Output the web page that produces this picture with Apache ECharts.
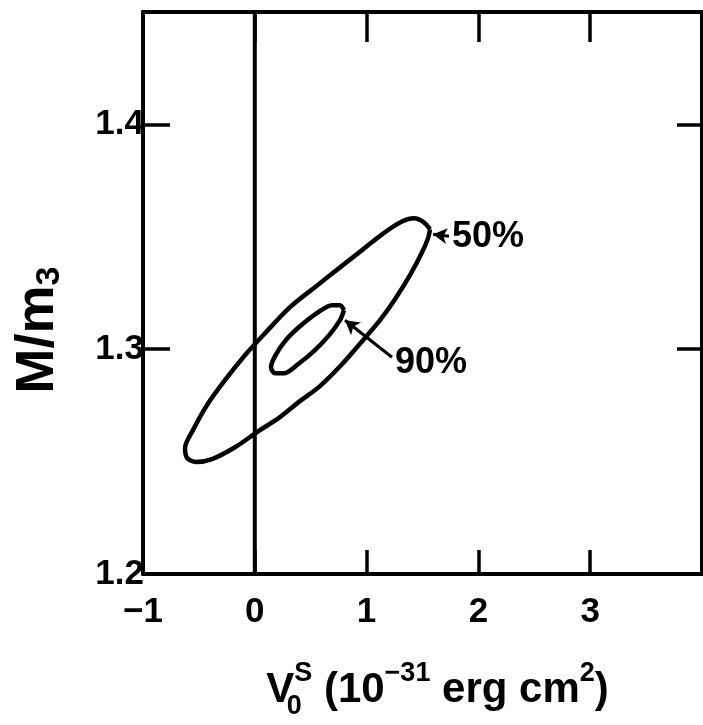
<!DOCTYPE html>
<html><head><meta charset="utf-8">
<script src="https://cdn.jsdelivr.net/npm/echarts@6/dist/echarts.min.js"></script>
<style>html,body{margin:0;padding:0;background:#fff}#c{width:703px;height:725px}</style>
</head><body><div id="c"></div>
<script>
// Axis ranges / ticks
const xRange = [-1, 4];
const yRange = [1.2, 1.45];
const xInterval = 1;
const yInterval = 0.1;

// 50% confidence contour (traced points)
const ell50X = [1.567, 1.513, 1.424, 1.299, 1.138, 0.968, 0.762, 0.538, 0.315, 0.091, -0.088, -0.267, -0.428, -0.553, -0.624, -0.606, -0.526, -0.383, -0.177, 0.020, 0.225, 0.404, 0.583, 0.780, 0.968, 1.120, 1.254, 1.388, 1.496, 1.549];
const ell50Y = [1.3533, 1.3564, 1.3582, 1.3564, 1.3511, 1.3444, 1.3364, 1.3276, 1.3187, 1.3071, 1.2973, 1.2862, 1.2751, 1.2640, 1.2560, 1.2516, 1.2498, 1.2511, 1.2564, 1.2631, 1.2698, 1.2769, 1.2836, 1.2933, 1.3040, 1.3129, 1.3222, 1.3329, 1.3431, 1.3493];

// 90% confidence contour (traced points)
const ell90X = [0.798, 0.762, 0.691, 0.565, 0.404, 0.270, 0.181, 0.145, 0.181, 0.261, 0.386, 0.538, 0.673, 0.762];
const ell90Y = [1.3173, 1.3196, 1.3196, 1.3164, 1.3102, 1.3036, 1.2969, 1.2920, 1.2893, 1.2893, 1.2933, 1.2996, 1.3067, 1.3129];

// vertical reference line at V = 0
const zeroLineX = [0, 0];
const zeroLineY = [1.2, 1.45];

// annotation labels
const labelText = ['50%', '90%'];
const labelX = [2.086, 1.576];
const labelY = [1.3498, 1.2938];

// annotation arrows: [fromX, fromY, toX, toY]
const arrow50 = [1.737, 1.3502, 1.594, 1.3511];
const arrow90 = [1.227, 1.2964, 0.807, 1.3129];

function zip(xs, ys, close) {
  const d = xs.map((x, i) => [x, ys[i]]);
  if (close) d.push([xs[0], ys[0]]);
  return d;
}

const FONT = 'Liberation Sans';
const chart = echarts.init(document.getElementById('c'), null, {renderer: 'canvas'});

const axisLine = {show: true, onZero: false, lineStyle: {color: '#000', width: 4}};

chart.setOption({
  backgroundColor: '#fff',
  animation: false,
  grid: {left: 143, right: 1, top: 12, bottom: 151},
  xAxis: [{
    type: 'value', position: 'bottom', min: xRange[0], max: xRange[1], interval: xInterval,
    axisLine: axisLine,
    axisTick: {show: true, inside: true, length: 24, lineStyle: {color: '#000', width: 3.5}},
    splitLine: {show: false},
    axisLabel: {
      color: '#000', fontFamily: FONT, fontWeight: 'bold', fontSize: 35, margin: 21, showMaxLabel: false,
      formatter: v => (v < 0 ? '\u2212' + Math.abs(v) : String(v))
    },
    name: '{v|V}{sub|0}{sup|S}{t| (10}{sup|\u221231}{t| erg cm}{sup|2}{t|)}',
    nameLocation: 'middle', nameGap: 86,
    nameTextStyle: {
      padding: [0, 0, 0, 30],
      rich: {
        v: {fontFamily: FONT, fontWeight: 'bold', fontSize: 42, lineHeight: 60, verticalAlign: 'middle', color: '#000'},
        t: {fontFamily: FONT, fontWeight: 'bold', fontSize: 42, lineHeight: 60, verticalAlign: 'middle', color: '#000'},
        sub: {fontFamily: FONT, fontWeight: 'bold', fontSize: 27, lineHeight: 28, verticalAlign: 'bottom', width: 0, color: '#000'},
        sup: {fontFamily: FONT, fontWeight: 'bold', fontSize: 27, lineHeight: 28, verticalAlign: 'top', color: '#000'}
      }
    }
  }, {
    type: 'value', position: 'top', min: xRange[0], max: xRange[1], interval: xInterval,
    axisLine: axisLine,
    axisTick: {show: true, inside: true, length: 30, lineStyle: {color: '#000', width: 3.5}},
    splitLine: {show: false}, axisLabel: {show: false}
  }],
  yAxis: [{
    type: 'value', position: 'left', min: yRange[0], max: yRange[1], interval: yInterval,
    axisLine: axisLine,
    axisTick: {show: true, inside: true, length: 27, lineStyle: {color: '#000', width: 3.5}},
    splitLine: {show: false},
    axisLabel: {color: '#000', fontFamily: FONT, fontWeight: 'bold', fontSize: 35, margin: -1, showMaxLabel: false,
      formatter: v => v.toFixed(1)},
    name: '{m|M/m}{s|3}',
    nameLocation: 'middle', nameRotate: 90, nameGap: 76,
    nameTextStyle: {
      padding: [0, 74, 0, 0],
      rich: {
        m: {fontFamily: FONT, fontWeight: 'bold', fontSize: 54, lineHeight: 58, verticalAlign: 'middle', color: '#000'},
        s: {fontFamily: FONT, fontWeight: 'bold', fontSize: 34, lineHeight: 34, verticalAlign: 'bottom', color: '#000'}
      }
    }
  }, {
    type: 'value', position: 'right', min: yRange[0], max: yRange[1], interval: yInterval,
    axisLine: axisLine,
    axisTick: {show: true, inside: true, length: 25, lineStyle: {color: '#000', width: 3.5}},
    splitLine: {show: false}, axisLabel: {show: false}
  }],
  series: [
    {
      name: 'zero', type: 'line', data: zip(zeroLineX, zeroLineY, false), symbol: 'none',
      lineStyle: {color: '#000', width: 4}, silent: true
    },
    {
      name: '50%', type: 'line', data: zip(ell50X, ell50Y, true), symbol: 'none', smooth: 0.3,
      lineStyle: {color: '#000', width: 4.5},
      markLine: {
        silent: true, symbol: ['none', 'arrow'], symbolSize: [12, 14], label: {show: false},
        lineStyle: {color: '#000', width: 3, type: 'solid'},
        data: [[{coord: [arrow50[0], arrow50[1]]}, {coord: [arrow50[2], arrow50[3]]}]]
      }
    },
    {
      name: '90%', type: 'line', data: zip(ell90X, ell90Y, true), symbol: 'none', smooth: 0.3,
      lineStyle: {color: '#000', width: 4.5},
      markLine: {
        silent: true, symbol: ['none', 'arrow'], symbolSize: [12, 14], label: {show: false},
        lineStyle: {color: '#000', width: 3, type: 'solid'},
        data: [[{coord: [arrow90[0], arrow90[1]]}, {coord: [arrow90[2], arrow90[3]]}]]
      }
    },
    {
      name: 'labels', type: 'scatter', symbolSize: 1, silent: true,
      itemStyle: {color: 'rgba(0,0,0,0)', opacity: 1},
      data: labelText.map((t, i) => ({value: [labelX[i], labelY[i]], name: t})),
      label: {show: true, position: 'inside', formatter: p => p.name, color: '#000',
        fontFamily: FONT, fontWeight: 'bold', fontSize: 36}
    }
  ]
});
</script>
</body></html>
